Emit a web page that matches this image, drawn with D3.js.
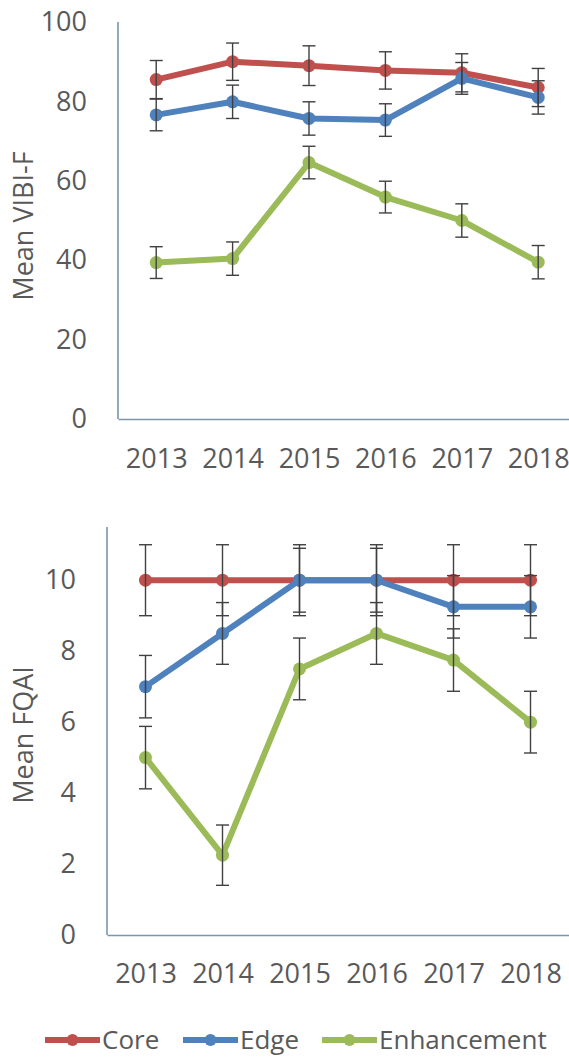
<!DOCTYPE html>
<html>

<head>
  <meta charset="utf-8">
  <script src="https://d3js.org/d3.v7.min.js"></script>
</head>
<style>
  body {
    margin: 0;
    background: #fff;
  }

  svg {
    display: block;
    font-family: "Open Sans", sans-serif;
  }

  .axis path {
    stroke: #7b96ab;
    stroke-width: 1.6px;
  }

  .axis text {
    font-size: 27px;
    fill: #595959;
    font-family: "Open Sans", sans-serif;
  }

  .title {
    font-size: 27px;
    fill: #595959;
  }

  .err {
    stroke: #404040;
    stroke-width: 1.4px;
  }

  .legend text {
    font-size: 26px;
    fill: #595959;
  }
</style>

<body>
  <svg id="chart" width="569" height="1057"></svg>
  <script>
    const years = ["2013", "2014", "2015", "2016", "2017", "2018"]
    const seriesNames = ["Core", "Edge", "Enhancement"]
    const colors = ["#c0504d", "#4f81bd", "#9bbb59"]

    // Mean VIBI-F (upper panel)
    const vibiCore = [85.5, 90, 89, 87.8, 87.2, 83.5]
    const vibiCoreErr = [4.8, 4.7, 5, 4.7, 4.8, 4.8]
    const vibiEdge = [76.6, 79.9, 75.7, 75.3, 85.8, 81]
    const vibiEdgeErr = [4, 4.2, 4.2, 4.1, 4, 4.2]
    const vibiEnh = [39.4, 40.4, 64.6, 55.9, 50, 39.5]
    const vibiEnhErr = [4, 4.2, 4.1, 4, 4.2, 4.2]
    const vibiTicks = [0, 20, 40, 60, 80, 100]

    // Mean FQAI (lower panel)
    const fqaiCore = [10, 10, 10, 10, 10, 10]
    const fqaiCoreErr = [1, 1, 1, 1, 1, 1]
    const fqaiEdge = [7, 8.5, 10, 10, 9.25, 9.25]
    const fqaiEdgeErr = [0.88, 0.87, 0.9, 0.9, 0.88, 0.88]
    const fqaiEnh = [5, 2.25, 7.5, 8.5, 7.75, 6]
    const fqaiEnhErr = [0.88, 0.85, 0.87, 0.87, 0.88, 0.87]
    const fqaiTicks = [0, 2, 4, 6, 8, 10]

    var svg = d3.select("#chart")

    function drawPanel(opts) {
      const x = d3.scalePoint()
        .domain(years)
        .range([opts.left, opts.left + opts.band * years.length])
        .padding(0.5)
      const y = d3.scaleLinear()
        .domain(opts.domain)
        .range([opts.bottom, opts.top])

      const g = svg.append("g")

      g.append("g")
        .attr("class", "axis")
        .attr("transform", "translate(" + opts.left + ",0)")
        .call(d3.axisLeft(y).tickValues(opts.ticks).tickSize(0).tickPadding(31))
        .call(a => a.select(".domain").attr("d", "M0," + opts.bottom + "V" + opts.top))

      g.append("g")
        .attr("class", "axis")
        .attr("transform", "translate(0," + opts.bottom + ")")
        .call(d3.axisBottom(x).tickSize(0).tickPadding(opts.xPad))

      g.selectAll(".axis text").attr("font-size", null)
      g.selectAll(".axis").attr("font-family", null)

      // y title
      g.append("text")
        .attr("class", "title")
        .attr("transform", "translate(" + opts.titleX + "," + opts.titleY + ") rotate(-90)")
        .attr("text-anchor", "middle")
        .attr("dy", "0.35em")
        .text(opts.title)

      const line = d3.line()
        .x((d, i) => x(years[i]))
        .y(d => y(d))

      opts.series.forEach(function (s, k) {
        g.append("path")
          .datum(s.values)
          .attr("d", line)
          .attr("fill", "none")
          .attr("stroke", colors[k])
          .attr("stroke-width", 6)
          .attr("stroke-linejoin", "round")
        g.selectAll(null)
          .data(s.values)
          .enter().append("circle")
          .attr("cx", (d, i) => x(years[i]))
          .attr("cy", d => y(d))
          .attr("r", 6.5)
          .attr("fill", colors[k])
      })

      // error bars on top
      opts.series.forEach(function (s) {
        s.values.forEach(function (v, i) {
          const cx = x(years[i])
          const e = s.err[i]
          const eg = g.append("g").attr("class", "err")
          eg.append("line")
            .attr("x1", cx).attr("x2", cx)
            .attr("y1", y(v - e)).attr("y2", y(v + e))
          eg.append("line")
            .attr("x1", cx - 6.5).attr("x2", cx + 6.5)
            .attr("y1", y(v + e)).attr("y2", y(v + e))
          eg.append("line")
            .attr("x1", cx - 6.5).attr("x2", cx + 6.5)
            .attr("y1", y(v - e)).attr("y2", y(v - e))
        })
      })
    }

    drawPanel({
      left: 118, band: 76.4, top: 22, bottom: 419, xPad: 30,
      domain: [0, 100], ticks: vibiTicks,
      title: "Mean VIBI-F", titleX: 24, titleY: 226,
      series: [
        { values: vibiCore, err: vibiCoreErr },
        { values: vibiEdge, err: vibiEdgeErr },
        { values: vibiEnh, err: vibiEnhErr }
      ]
    })

    drawPanel({
      left: 107, band: 77, top: 527, bottom: 935, xPad: 29,
      domain: [0, 11.5], ticks: fqaiTicks,
      title: "Mean FQAI", titleX: 24, titleY: 735,
      series: [
        { values: fqaiCore, err: fqaiCoreErr },
        { values: fqaiEdge, err: fqaiEdgeErr },
        { values: fqaiEnh, err: fqaiEnhErr }
      ]
    })

    // legend
    const legendX = [45, 183, 322]
    const legend = svg.append("g").attr("class", "legend")
    seriesNames.forEach(function (name, k) {
      const lg = legend.append("g").attr("transform", "translate(" + legendX[k] + ",1040)")
      lg.append("line")
        .attr("x1", 0).attr("x2", 55)
        .attr("stroke", colors[k])
        .attr("stroke-width", 6)
      lg.append("circle")
        .attr("cx", 27.5)
        .attr("r", 6)
        .attr("fill", colors[k])
      lg.append("text")
        .attr("x", 57)
        .attr("dy", "0.35em")
        .text(name)
    })
  </script>
</body>

</html>
